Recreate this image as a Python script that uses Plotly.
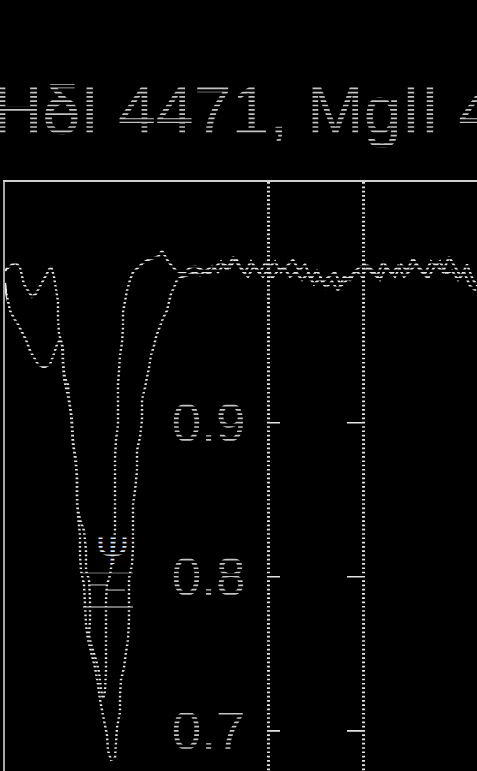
import plotly.graph_objects as go

# ---- data: velocity (km/s) and normalised flux ----
v1 = [-535, -520, -500, -480, -460, -440, -420, -400, -380, -360,
      -340, -320, -305, -290, -280, -270, -270, -265, -250, -245,
      -240, -225, -210, -200, -195, -185, -175, -175, -170, -160,
      -160, -155, -140, -135, -130, -120, -100, -85, -70, -60,
      -45, -25, -20, -5, 15, 20, 25, 40, 40, 45,
      60, 70, 80, 85, 85, 85, 100, 105, 105, 105,
      115, 125, 125, 140, 150, 150, 165, 175, 185, 195,
      210, 220, 240, 255, 275, 285, 295, 310, 325, 350,
      380, 415,
      440, 470, 500, 530, 560, 590, 620, 650, 680, 710,
      740, 770, 800, 830, 860, 890, 920, 950, 980, 1010,
      1040, 1070, 1100, 1130, 1160, 1190, 1220, 1250, 1280, 1310,
      1340, 1370, 1400, 1430, 1460, 1490, 1520, 1550, 1580, 1610,
      1640, 1670, 1700, 1730, 1760, 1790, 1820]
f1 = [0.999, 1.001, 1.003, 1.004, 1.001, 0.990, 0.986, 0.982, 0.984, 0.989,
      0.994, 0.998, 1.002, 0.995, 0.988, 0.979, 0.968, 0.958, 0.951, 0.940,
      0.929, 0.920, 0.911, 0.902, 0.889, 0.877, 0.866, 0.853, 0.840, 0.827,
      0.814, 0.804, 0.795, 0.782, 0.769, 0.759, 0.749, 0.741, 0.730, 0.720,
      0.710, 0.697, 0.687, 0.681, 0.682, 0.693, 0.702, 0.712, 0.723, 0.733,
      0.741, 0.751, 0.759, 0.772, 0.786, 0.799, 0.808, 0.819, 0.834, 0.847,
      0.856, 0.869, 0.882, 0.891, 0.902, 0.915, 0.923, 0.929, 0.936, 0.944,
      0.950, 0.956, 0.963, 0.968, 0.973, 0.979, 0.984, 0.988, 0.993, 0.995,
      0.996, 0.998,
      0.996, 0.999, 1.002, 0.998, 1.003, 1.001, 1.007, 0.999, 0.995, 1.002,
      0.998, 1.005, 0.994, 0.999, 1.001, 0.995, 0.998, 0.993, 0.997, 0.990,
      0.994, 0.988, 0.992, 0.986, 0.995, 0.993, 0.999, 0.995, 1.002, 0.998,
      0.993, 1.001, 0.997, 1.002, 0.995, 0.999, 1.003, 0.998, 0.994, 1.001,
      1.005, 0.997, 0.999, 0.993, 0.998, 0.989, 0.986]

v2 = [-535, -530, -520, -510, -490, -470, -450, -430, -410, -390,
      -370, -340, -310, -290, -275, -260, -245, -245, -235, -220,
      -215, -205, -200, -195, -180, -175, -175, -160, -140, -130,
      -130, -115, -110, -110, -115, -100, -80, -65, -55, -45,
      -35, -30, -30, -30, -30, -25, -10, 0, 10, 15,
      15, 15, 15, 20, 30, 30, 30, 35, 40, 50,
      55, 55, 65, 75, 90, 105, 130, 155, 180, 205,
      230, 250, 265, 280, 300, 320, 340, 365, 390, 415,
      455, 485, 515, 545, 575, 605, 635, 665, 695, 725,
      755, 785, 815, 845, 875, 905, 935, 965, 995, 1025,
      1055, 1085, 1115, 1145, 1175, 1205, 1235, 1265, 1295, 1325,
      1355, 1385, 1415, 1445, 1475, 1505, 1535, 1565, 1595, 1625,
      1655, 1685, 1715, 1745, 1775, 1805, 1835]
f2 = [0.991, 0.985, 0.979, 0.973, 0.968, 0.964, 0.959, 0.954, 0.947, 0.942,
      0.938, 0.936, 0.938, 0.945, 0.951, 0.954, 0.949, 0.938, 0.929, 0.925,
      0.916, 0.905, 0.895, 0.886, 0.876, 0.863, 0.847, 0.837, 0.830, 0.817,
      0.804, 0.798, 0.785, 0.772, 0.762, 0.754, 0.746, 0.738, 0.727, 0.720,
      0.726, 0.739, 0.752, 0.769, 0.785, 0.795, 0.801, 0.810, 0.819, 0.830,
      0.847, 0.863, 0.877, 0.889, 0.899, 0.912, 0.925, 0.934, 0.944, 0.952,
      0.962, 0.972, 0.980, 0.986, 0.993, 0.998, 1.001, 1.004, 1.006, 1.007,
      1.008, 1.012, 1.008, 1.005, 1.002, 0.999, 0.998, 0.998, 1.001, 1.002,
      0.999, 0.997, 1.001, 1.005, 0.999, 1.008, 1.002, 0.998, 1.005, 0.999,
      0.995, 1.001, 1.005, 0.998, 1.002, 1.006, 0.999, 1.003, 0.994, 0.999,
      0.992, 0.995, 0.998, 0.989, 0.993, 0.997, 1.001, 1.003, 0.998, 0.995,
      1.005, 0.999, 0.995, 1.003, 0.999, 1.007, 1.001, 0.997, 1.005, 1.002,
      0.998, 1.008, 1.001, 0.995, 1.003, 0.993, 0.988]

# measured depth markers
bar_flux = [0.802, 0.795, 0.791, 0.780]
bar_v_lo = [-145, -110, -25, -145]
bar_v_hi = [105, -25, 65, 105]

tick_vals = [0.7, 0.8, 0.9]
title_text = "HeI 4471, MgII 4481"
ghost_text = "H\u03b4"
marker_text = "\u03a8"

# ---- styling ----
W, H = 477, 771
FG = "#e4e4e4"
YR = [0.6737, 1.0566]

fig = go.Figure()
fig.add_trace(go.Scatter(x=v1, y=f1, mode="lines", line=dict(color=FG, width=2.4),
                         xaxis="x", yaxis="y", hoverinfo="skip"))
fig.add_trace(go.Scatter(x=v2, y=f2, mode="lines", line=dict(color=FG, width=2.4),
                         xaxis="x", yaxis="y2", hoverinfo="skip"))
bx, by = [], []
for lo, hi, fl in zip(bar_v_lo, bar_v_hi, bar_flux):
    bx += [lo, hi, None]
    by += [fl, fl, None]
fig.add_trace(go.Scatter(x=bx, y=by, mode="lines", line=dict(color=FG, width=2),
                         xaxis="x", yaxis="y4", hoverinfo="skip"))
fig.add_trace(go.Scatter(x=[2], y=[0.815], mode="text", text=[marker_text],
                         textposition="middle center",
                         textfont=dict(family="Liberation Sans", size=40, color=FG),
                         xaxis="x", yaxis="y4", hoverinfo="skip"))

# title texts (drawn as traces so the scan-line overlay also covers them)
for t in (ghost_text, title_text):
    fig.add_trace(go.Scatter(x=[-0.014], y=[1 - 117 / H], mode="text", text=[t],
                             textposition="middle right",
                             textfont=dict(family="Liberation Sans", size=68, color="#c2c2c2"),
                             xaxis="x3", yaxis="y3", cliponaxis=True, hoverinfo="skip"))

# scan-line overlay reproducing the dotted plotter look
shapes = []
def scan(c, x0):
    shapes.append(dict(type="line", xref="paper", yref="paper", x0=x0, x1=1,
                       y0=1 - c / H, y1=1 - c / H, layer="above",
                       line=dict(color="black", width=2.6)))
k = -56
while True:
    c = 424.84 + 4.28 * k
    if c > 773:
        break
    scan(c, 7 / W)
    k += 1
for k in range(-10, 7):
    scan(129.15 + 4.3 * k, 0)

fig.update_layout(
    width=W, height=H, margin=dict(l=0, r=0, t=0, b=0),
    paper_bgcolor="black", plot_bgcolor="rgba(0,0,0,0)",
    showlegend=False, hovermode=False, shapes=shapes,
    xaxis=dict(domain=[5 / W, 1], range=[-535, 1825], anchor="y", side="top",
               showline=True, linecolor="#d0d0d0", linewidth=2, ticks="",
               showticklabels=False, showgrid=False, zeroline=False),
    yaxis=dict(domain=[0, 589 / H], range=YR, anchor="free", position=268 / W,
               side="left", showline=True, linecolor=FG, linewidth=3,
               ticks="inside", ticklen=10, tickwidth=2, tickcolor=FG,
               tickvals=tick_vals, tickformat=".1f", ticklabelstandoff=11,
               tickfont=dict(family="Liberation Sans", size=53, color="#c4c4c4"),
               showgrid=False, zeroline=False),
    yaxis2=dict(overlaying="y", range=YR, anchor="free", position=363 / W,
                side="right", showline=True, linecolor=FG, linewidth=3,
                ticks="inside", ticklen=15, tickwidth=2, tickcolor=FG,
                tickvals=tick_vals, showticklabels=False,
                showgrid=False, zeroline=False),
    yaxis4=dict(overlaying="y", range=YR, anchor="x", side="left",
                showline=True, linecolor="#a8a8a8", linewidth=1.5, ticks="",
                showticklabels=False, showgrid=False, zeroline=False),
    xaxis3=dict(domain=[0, 1], range=[0, 1], anchor="y3", visible=False),
    yaxis3=dict(domain=[0, 1], range=[0, 1], anchor="x3", visible=False),
)

fig.write_html("out.html", config={"displayModeBar": False},
               post_script="document.body.style.margin='0';"
                           "document.body.style.background='black';")
